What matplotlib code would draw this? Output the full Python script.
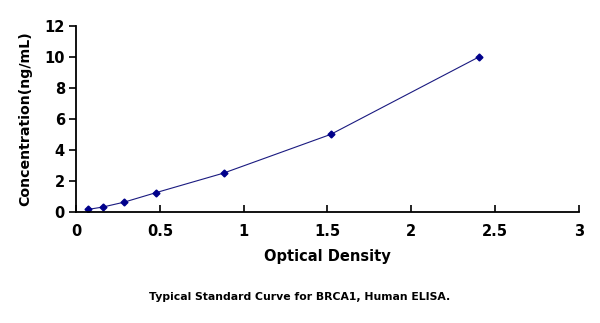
import numpy as np
import matplotlib.pyplot as plt

plt.rcParams['font.family'] = ['DejaVu Sans']
plt.rcParams['font.weight'] = 'bold'

# Standard curve readings
od = [0.07, 0.16, 0.286, 0.48, 0.88, 1.52, 2.405]
conc = [0.156, 0.313, 0.625, 1.25, 2.5, 5, 10]

x_ticks = [0, 0.5, 1, 1.5, 2, 2.5, 3]
x_labels = ['0', '0.5', '1', '1.5', '2', '2.5', '3']
y_ticks = [0, 2, 4, 6, 8, 10, 12]

fig = plt.figure(figsize=(6, 3.23), dpi=100)
ax = fig.add_axes([0.1267, 0.344, 0.838, 0.576])

ax.plot(od, conc, color='#1a1a80', linewidth=0.8, marker='D',
        markersize=3.5, markerfacecolor='#00008b', markeredgecolor='#00008b')

ax.set_xlim(0, 3)
ax.set_ylim(0, 12)
ax.set_xticks(x_ticks)
ax.set_xticklabels(x_labels)
ax.set_yticks(y_ticks)

for s in ['top', 'right']:
    ax.spines[s].set_visible(False)
for s in ['left', 'bottom']:
    ax.spines[s].set_linewidth(1.3)

ax.tick_params(axis='x', direction='in', length=5, width=1.2, labelsize=10.5, pad=9)
ax.tick_params(axis='y', direction='out', length=5, width=1.2, labelsize=10.5, pad=3)

ax.set_xlabel('Optical Density', fontsize=10.5, fontweight='bold', labelpad=7)
ax.set_ylabel('Concentration(ng/mL)', fontsize=10.2, fontweight='bold', labelpad=9)

fig.text(0.5, 0.07, 'Typical Standard Curve for BRCA1, Human ELISA.',
         ha='center', fontsize=7.8, fontweight='bold')

fig.savefig('out.png', dpi=100)
